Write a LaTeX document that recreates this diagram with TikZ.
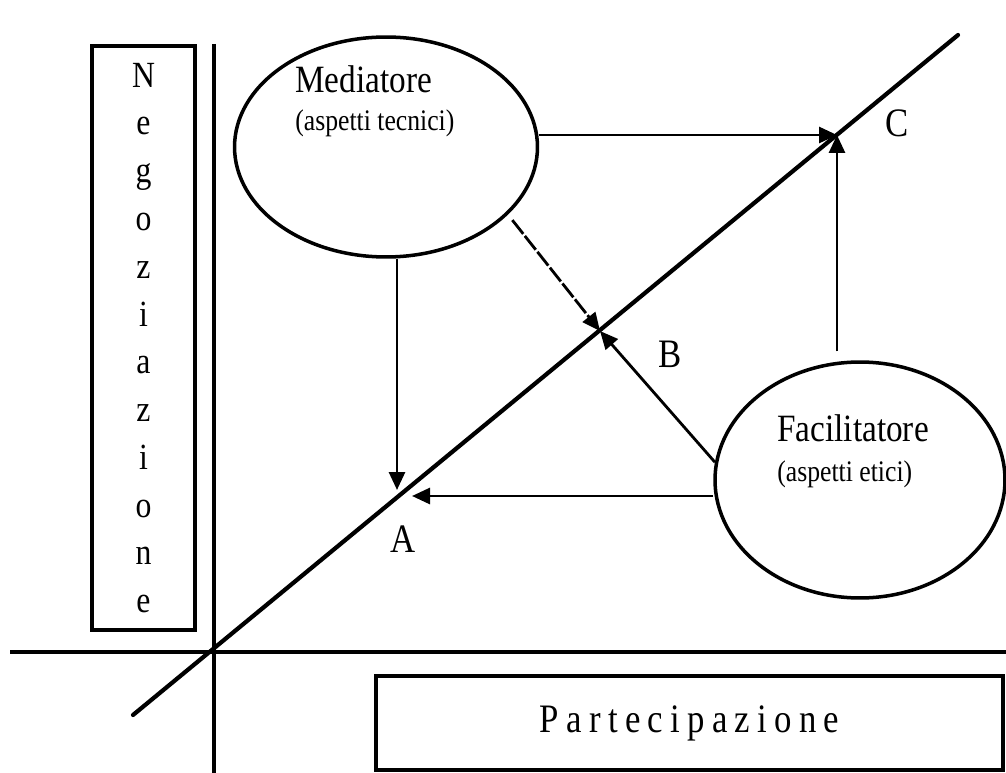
\documentclass[tikz,border=0pt]{standalone}
\usepackage{fontspec}
\setmainfont[FakeStretch=0.86]{Liberation Serif}
\newfontfamily\spacedfont[FakeStretch=0.86,LetterSpace=18]{Liberation Serif}
\usetikzlibrary{shapes.geometric,arrows.meta,positioning}

\tikzset{
    actor/.style={draw, ellipse, line width=2pt, inner sep=0pt},
    titletext/.style={anchor=base west, inner sep=0pt, font=\fontsize{22}{26}\selectfont},
    subtext/.style={anchor=base west, inner sep=0pt, font=\fontsize{17}{20}\selectfont},
    pointlabel/.style={anchor=base, inner sep=0pt, font=\fontsize{23}{26}\selectfont},
    flow/.style={line width=1.6pt, -{Triangle[length=0.36cm,width=0.32cm]}},
    axisbox/.style={draw, line width=1.9pt, inner sep=0pt}
}

\begin{document}
\begin{tikzpicture}[x=0.02cm, y=-0.02cm]
    \useasboundingbox (0,0) rectangle (1006,773);

    % Axes
    \draw[line width=2.4pt] (10,652) -- (1006,652);
    \draw[line width=1.9pt] (214,44) -- (214,773);

    % Diagonal and the points on it
    \coordinate (low) at (133,715);
    \coordinate (high) at (958,35);
    \draw[line width=2.4pt, line cap=round] (low) -- (high);
    \coordinate (A) at (397,496);
    \coordinate (B) at (600,331);
    \coordinate (C) at (837,135);

    % Boxes
    \node[axisbox, minimum width=2.06cm, minimum height=11.68cm, align=center,
          font=\fontsize{21}{27.2}\selectfont] (neg) at (143.5,338)
        {N\\e\\g\\o\\z\\i\\a\\z\\i\\o\\n\\e};
    \node[axisbox, minimum width=12.54cm, minimum height=1.88cm,
          font=\spacedfont\fontsize{23}{26}\selectfont] (part) at (689.5,723) {Partecipazione};

    % Ellipses
    \node[actor, minimum width=6.06cm, minimum height=4.4cm] (med) at (386,147) {};
    \node[actor, minimum width=5.8cm, minimum height=4.72cm] (fac) at (860,480) {};
    \node[titletext] (medtitle) at (295,93) {Mediatore};
    \node[subtext] (medsub) at (295,131) {(aspetti tecnici)};
    \node[titletext] (factitle) at (777,441) {Facilitatore};
    \node[subtext] (facsub) at (777,481) {(aspetti etici)};

    % Arrows
    \draw[flow] (med.east |- C) -- (C);
    \draw[flow, shorten <=0.18cm] (fac.north -| C) -- (C);
    \draw[flow, shorten >=0.12cm] (med.south -| A) -- (A);
    \draw[flow, shorten >=0.3cm] (fac.west |- A) -- (A);
    \draw[flow, dash pattern=on 10pt off 1.5pt, shorten <=0.14cm] (med.-29) -- (B);
    \draw[flow] (fac.173) -- (B);

    % Labels
    \node[pointlabel] (Alabel) at (403,552) {A};
    \node[pointlabel] (Blabel) at (670,367) {B};
    \node[pointlabel] (Clabel) at (897,137) {C};
\end{tikzpicture}
\end{document}
